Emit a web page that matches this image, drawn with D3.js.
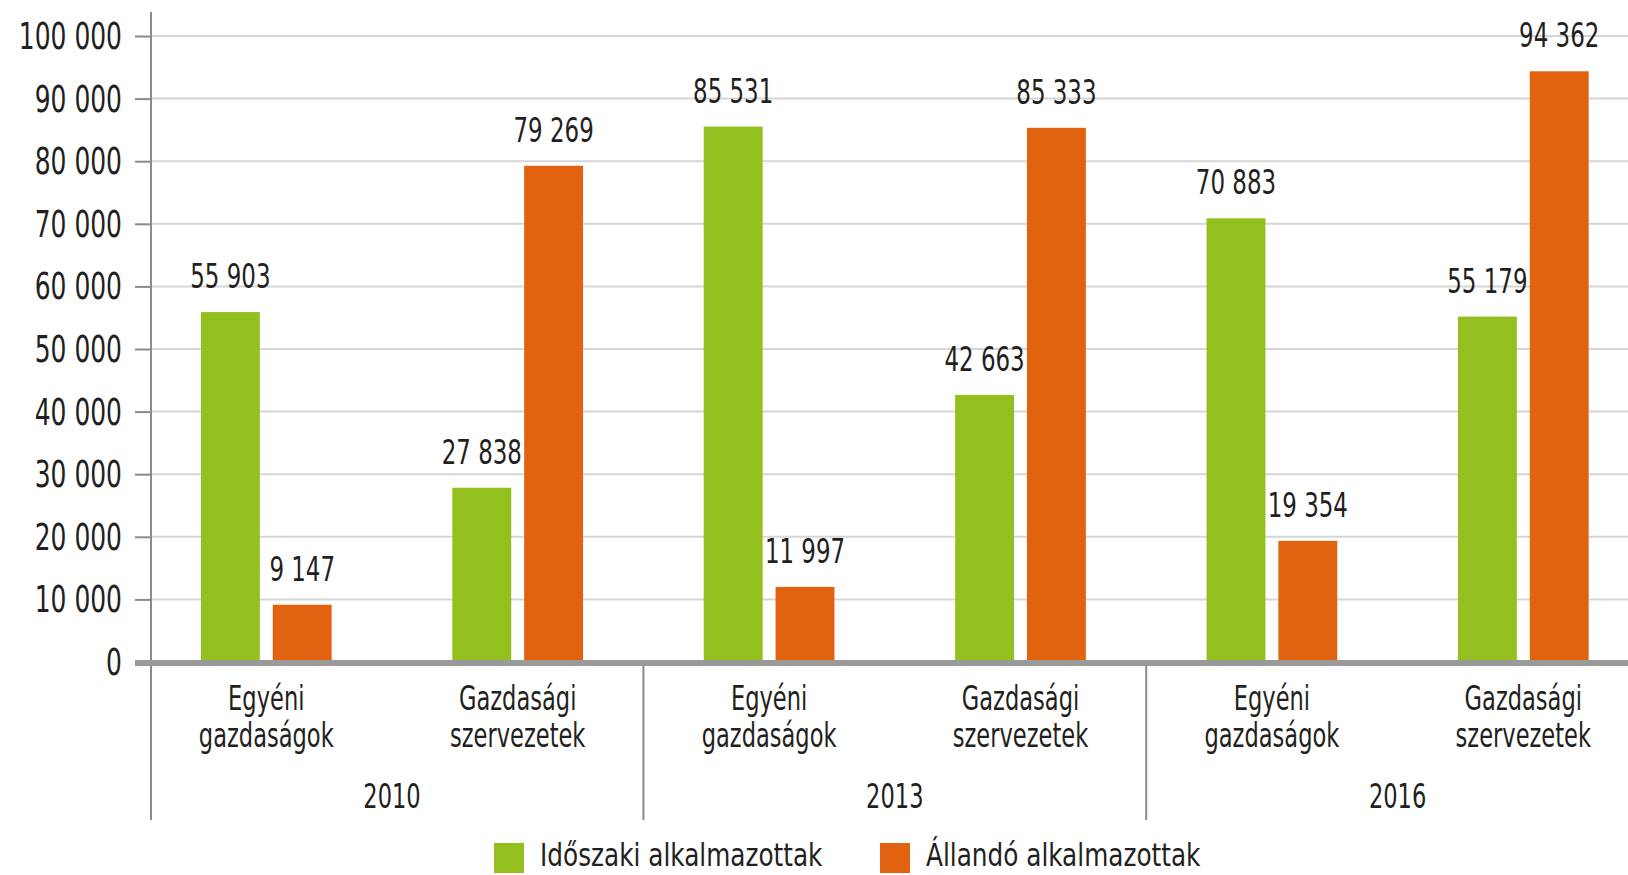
<!DOCTYPE html>
<html>
<head>
<meta charset="utf-8">
<script src="https://cdn.jsdelivr.net/npm/d3@7"></script>
<style>
  html, body { margin: 0; padding: 0; background: #ffffff; }
  svg { display: block; }
  text { font-family: "Liberation Sans Narrow", "Arial Narrow", "DejaVu Sans Condensed", sans-serif; fill: #231f20; }
</style>
</head>
<body>
<svg id="chart" width="1628" height="875"></svg>
<script>
// ---- data ----
const years = ["2010", "2013", "2016"];
const groupLabels = [["Egyéni", "gazdaságok"], ["Gazdasági", "szervezetek"]];
const categories = ["2010-EG", "2010-GSZ", "2013-EG", "2013-GSZ", "2016-EG", "2016-GSZ"];
const seriesNames = ["Időszaki alkalmazottak", "Állandó alkalmazottak"];
const idoszaki = [55903, 27838, 85531, 42663, 70883, 55179];
const allando = [9147, 79269, 11997, 85333, 19354, 94362];
const yTicks = [0, 10000, 20000, 30000, 40000, 50000, 60000, 70000, 80000, 90000, 100000];

// ---- setup ----
const colors = ["#93c01f", "#e1620f"];
const svg = d3.select("#chart");
const W = 1628, H = 875;
const axisX = 151;

const fmt = d3.formatLocale({ decimal: ",", thousands: " ", grouping: [3], currency: ["", ""] }).format(",");

const y = d3.scaleLinear().domain([0, 100000]).range([662, 36]);
const x0 = d3.scaleBand().domain(categories).range([140.6, 1649]).paddingInner(0.48).paddingOuter(0.24);
const x1 = d3.scaleBand().domain(seriesNames).range([0, x0.bandwidth()]).paddingInner(0.18);

function txt(parent, x, yy, str, size, sx, anchor) {
  return parent.append("text")
    .attr("transform", `translate(${x},${yy}) scale(${sx},1)`)
    .attr("text-anchor", anchor || "middle")
    .style("font-size", size + "px")
    .text(str);
}

// gridlines
svg.append("g").selectAll("line").data(yTicks.filter(d => d > 0)).join("line")
  .attr("x1", axisX).attr("x2", W)
  .attr("y1", d => y(d)).attr("y2", d => y(d))
  .attr("stroke", "#d6d6d6").attr("stroke-width", 2);

// y axis via d3 axis
const yAxis = d3.axisLeft(y).tickValues(yTicks).tickSize(16).tickFormat("");
const yg = svg.append("g").attr("transform", `translate(${axisX},0)`).call(yAxis);
yg.select(".domain").remove();
yg.selectAll(".tick line").attr("stroke", "#8a8a8a").attr("stroke-width", 2);

// tick labels
const tl = svg.append("g");
yTicks.forEach(t => {
  txt(tl, 122, y(t) + 13, fmt(t), 37, 0.75, "end");
});

// vertical axis line
svg.append("line").attr("x1", axisX).attr("x2", axisX).attr("y1", 12).attr("y2", 820)
  .attr("stroke", "#8a8a8a").attr("stroke-width", 2);

// group separators
const sepXs = [1, 2].map(i => (x0(categories[2 * i - 1]) + x0.bandwidth() + x0(categories[2 * i])) / 2);
svg.append("g").selectAll("line").data(sepXs).join("line")
  .attr("x1", d => d).attr("x2", d => d).attr("y1", y(0)).attr("y2", 820)
  .attr("stroke", "#8a8a8a").attr("stroke-width", 2);

// bars
const rows = categories.map((c, i) => ({ cat: c, vals: [idoszaki[i], allando[i]] }));
const bg = svg.append("g");
rows.forEach(r => {
  r.vals.forEach((v, k) => {
    bg.append("rect")
      .attr("x", x0(r.cat) + x1(seriesNames[k]))
      .attr("y", y(v))
      .attr("width", x1.bandwidth())
      .attr("height", y(0) - y(v))
      .attr("fill", colors[k]);
  });
});

// zero line
svg.append("line").attr("x1", 135).attr("x2", W).attr("y1", y(0) + 1).attr("y2", y(0) + 1)
  .attr("stroke", "#9a9a9a").attr("stroke-width", 6);

// value labels
const lg = svg.append("g");
rows.forEach(r => {
  r.vals.forEach((v, k) => {
    const cx = x0(r.cat) + x1(seriesNames[k]) + x1.bandwidth() / 2;
    txt(lg, cx, y(v) - 24, fmt(v), 34, 0.75, "middle");
  });
});

// category labels
const cg = svg.append("g");
categories.forEach((c, i) => {
  const cx = x0(c) + x0.bandwidth() / 2;
  const lab = groupLabels[i % 2];
  txt(cg, cx, 710, lab[0], 33, 0.76, "middle");
  txt(cg, cx, 747, lab[1], 33, 0.76, "middle");
});

// year labels
years.forEach((yr, j) => {
  const cx = (x0(categories[2 * j]) + x0(categories[2 * j + 1]) + x0.bandwidth()) / 2;
  txt(cg, cx, 808, yr, 33, 0.76, "middle");
});

// legend
const legX = [494, 880];
const lgd = svg.append("g");
seriesNames.forEach((s, k) => {
  lgd.append("rect").attr("x", legX[k]).attr("y", 843).attr("width", 30).attr("height", 30).attr("fill", colors[k]);
  txt(lgd, legX[k] + 46, 866, s, 32, 0.86, "start");
});
</script>
</body>
</html>
